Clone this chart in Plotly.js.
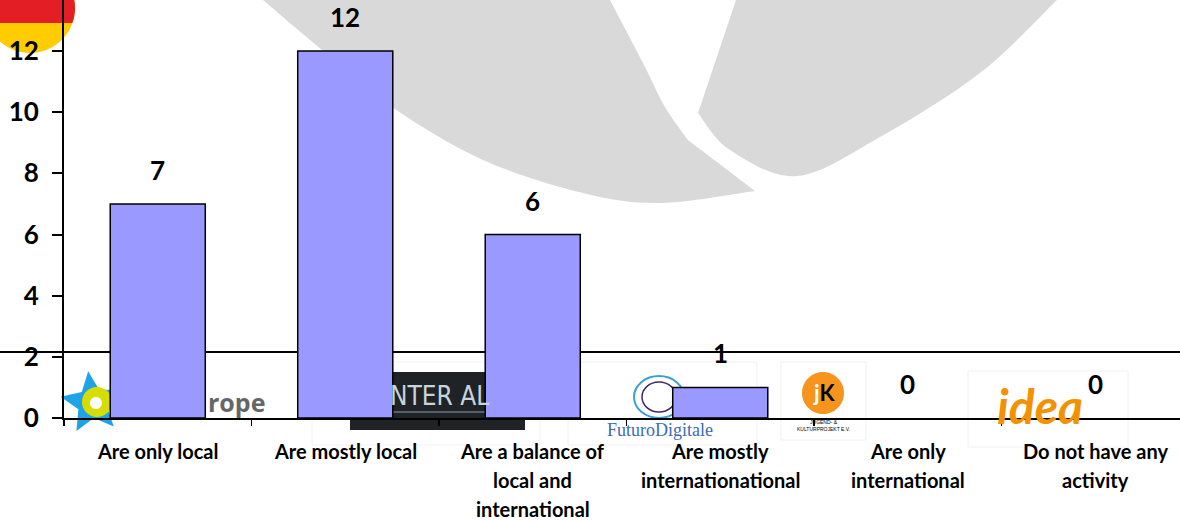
<!DOCTYPE html>
<html>
<head>
<meta charset="utf-8">
<script src="https://cdn.plot.ly/plotly-3.0.1.min.js"></script>
<style>
html,body{margin:0;padding:0;background:#fff;}
#chart{width:1180px;height:521px;}
</style>
</head>
<body>
<div id="chart"></div>
<script>
// ---- data ----
const categories = [
  "Are only local",
  "Are mostly local",
  "Are a balance of local and international",
  "Are mostly internationational",
  "Are only international",
  "Do not have any activity"
];
const tickLabels = [
  "Are only local",
  "Are mostly local",
  "Are a balance of\nlocal and\ninternational",
  "Are mostly\ninternationational",
  "Are only\ninternational",
  "Do not have any\nactivity"
];
const values = [7, 12, 6, 1, 0, 0];
const yTickValues = [0, 2, 4, 6, 8, 10, 12];

// ---- layout helpers (pixel -> paper) ----
const PL = 64, PW = 1116, PB = 418, PH = 418;
const fx = px => (px - PL) / PW;
const fy = py => (PB - py) / PH;
const pt = (x, y) => fx(x) + ',' + fy(y);

// smooth curve through pixel points (Catmull-Rom -> cubic Bezier), continuing a path
function smooth(pts) {
  let s = '';
  for (let i = 0; i < pts.length - 1; i++) {
    const p0 = pts[Math.max(0, i - 1)], p1 = pts[i], p2 = pts[i + 1], p3 = pts[Math.min(pts.length - 1, i + 2)];
    const c1 = [p1[0] + (p2[0] - p0[0]) / 6, p1[1] + (p2[1] - p0[1]) / 6];
    const c2 = [p2[0] - (p3[0] - p1[0]) / 6, p2[1] - (p3[1] - p1[1]) / 6];
    s += ' C' + pt(c1[0], c1[1]) + ' ' + pt(c2[0], c2[1]) + ' ' + pt(p2[0], p2[1]);
  }
  return s;
}
function circlePath(cx, cy, r, maxY) {
  let pts = [];
  for (let k = 0; k <= 72; k++) {
    const a = k / 72 * 2 * Math.PI;
    let x = cx + r * Math.cos(a), y = cy + r * Math.sin(a);
    if (maxY !== undefined && y > maxY) y = maxY;
    pts.push((k ? 'L' : 'M') + pt(x, y));
  }
  return pts.join(' ') + ' Z';
}
function starPath(cx, cy, R, r, rot) {
  let pts = [];
  for (let k = 0; k < 10; k++) {
    const a = rot + k * Math.PI / 5;
    const rr = k % 2 ? r : R;
    pts.push((k ? 'L' : 'M') + pt(cx + rr * Math.sin(a), cy - rr * Math.cos(a)));
  }
  return pts.join(' ') + ' Z';
}
const pathShape = (path, fill, line) => ({type: 'path', xref: 'paper', yref: 'paper', path: path,
  fillcolor: fill, line: line || {width: 0}, layer: 'below'});
const boxShape = (x0, y0, x1, y1, fill, line, type) => ({type: type || 'rect', xref: 'paper', yref: 'paper',
  x0: fx(x0), x1: fx(x1), y0: fy(y1), y1: fy(y0), fillcolor: fill, line: line || {width: 0}, layer: 'below'});

const leftLeaf = 'M' + pt(263, 0) +
  smooth([[263, 0], [322, 50], [392, 107], [483, 160], [583, 193], [660, 203], [755, 191]]) +
  smooth([[755, 191], [688, 140]]) +
  smooth([[688, 140], [665, 107], [643, 63], [610, 0]]) + ' Z';
const rightLeaf = 'M' + pt(736, 0) + ' L' + pt(698, 113) +
  smooth([[698, 113], [730, 150], [797, 176], [880, 137], [980, 73], [1057, 0]]) + ' Z';

const shapes = [
  // grey watermark
  pathShape(leftLeaf, '#d9d9d9'),
  pathShape(rightLeaf, '#d9d9d9'),
  // flag badge
  pathShape(circlePath(30, 8, 45), '#ffcc00'),
  pathShape(circlePath(30, 8, 45, 23), '#e31e24'),
  // stray horizontal rule
  {type: 'line', xref: 'paper', yref: 'paper', x0: fx(0), x1: fx(1180), y0: fy(352), y1: fy(352),
   line: {color: '#000', width: 2}, layer: 'below'},
  // faint logo frames
  boxShape(312, 362, 540, 445, 'rgba(0,0,0,0)', {color: '#f2f2f2', width: 1}),
  boxShape(568, 362, 757, 445, 'rgba(0,0,0,0)', {color: '#f0f0f0', width: 1}),
  boxShape(781, 362, 866, 440, 'rgba(0,0,0,0)', {color: '#f0f0f0', width: 1}),
  boxShape(968, 371, 1128, 447, 'rgba(0,0,0,0)', {color: '#f0f0f0', width: 1}),
  // star logo
  pathShape(starPath(92, 403, 32, 15, -0.12), '#1ea3e6'),
  pathShape(circlePath(97, 402, 15), '#d7dd00'),
  pathShape(circlePath(96, 403, 6), '#ffffff'),
  // inter alia logo
  boxShape(350, 372, 525, 430, '#1f2326'),
  {type: 'line', xref: 'paper', yref: 'paper', x0: fx(393), x1: fx(485), y0: fy(412), y1: fy(412),
   line: {color: '#8aa0b4', width: 1}, layer: 'below'},
  // futuro digitale swirl
  boxShape(634, 376, 684, 418, 'rgba(0,0,0,0)', {color: '#3a9fd6', width: 2}, 'circle'),
  boxShape(642, 382, 676, 412, 'rgba(0,0,0,0)', {color: '#3c2b6b', width: 1.5}, 'circle'),
  // jk logo
  pathShape(circlePath(823, 393, 21), '#f7941d'),
];

const lblFont = {family: 'Lato, sans-serif', size: 20, color: '#000', weight: 'bold'};
const valFont = {family: 'Lato, sans-serif', size: 26, color: '#000', weight: 'bold'};
const logoNote = (px, py, text, font) => ({xref: 'paper', yref: 'paper', x: fx(px), y: fy(py), text: text,
  showarrow: false, xanchor: 'center', yanchor: 'middle', font: font});

const annotations = [
  logoNote(236, 402, 'rope', {family: 'Open Sans, sans-serif', size: 25, color: '#666', weight: 'bold'}),
  logoNote(439, 396, 'NTER AL', {family: 'Liberation Sans Narrow, DejaVu Sans Condensed, sans-serif', size: 26, color: '#c9d3dc'}),
  logoNote(660, 430, 'FuturoDigitale', {family: 'Liberation Serif, serif', size: 18, color: '#3b6bb5'}),
  logoNote(824, 392, '<span style="color:#fff">j</span>K', {family: 'Lato, sans-serif', size: 22, color: '#000', weight: 'bold'}),
  logoNote(823, 425, 'JUGEND- &amp;<br>KULTURPROJEKT E.V.', {family: 'Liberation Sans, sans-serif', size: 5, color: '#000'}),
  logoNote(1040, 405, '<i>idea</i>', {family: 'Lato, sans-serif', size: 48, color: '#f39200', weight: 'bold'}),
];

// category labels (multi-line, wide line spacing)
tickLabels.forEach((lbl, i) => {
  lbl.split('\n').forEach((line, j) => {
    annotations.push({x: categories[i], xref: 'x', y: fy(451 + 29 * j), yref: 'paper',
      text: line, showarrow: false, xanchor: 'center', yanchor: 'middle', font: lblFont});
  });
});
// value labels
values.forEach((v, i) => {
  annotations.push({x: categories[i], xref: 'x', y: v, yref: 'y', text: String(v),
    showarrow: false, xanchor: 'center', yanchor: 'bottom', yshift: 16, font: valFont});
});

const trace = {
  type: 'bar',
  x: categories,
  y: values,
  marker: {color: '#9999ff', line: {color: '#000', width: values.map(v => v ? 1.5 : 0)}},
  hoverinfo: 'x+y'
};

const layout = {
  width: 1180, height: 521,
  margin: {l: PL, r: 0, t: 0, b: 521 - PB},
  paper_bgcolor: 'rgba(0,0,0,0)',
  plot_bgcolor: 'rgba(0,0,0,0)',
  showlegend: false,
  bargap: 0.493,
  xaxis: {
    type: 'category',
    range: [-0.5, -0.5 + PW / 187.5],
    showticklabels: false,
    ticks: 'outside', tickson: 'boundaries', ticklen: 6, tickwidth: 1.5, tickcolor: '#000',
    showline: true, linecolor: '#000', linewidth: 2,
    showgrid: false, zeroline: false, fixedrange: true
  },
  yaxis: {
    range: [0, PB / ((418 - 51) / 12)],
    tickvals: yTickValues,
    ticktext: yTickValues.map(String),
    ticks: 'outside', ticklen: 10, tickwidth: 2, tickcolor: '#000',
    ticklabelstandoff: 8,
    tickfont: {family: 'Lato, sans-serif', size: 26, color: '#000', weight: 'bold'},
    showline: true, linecolor: '#000', linewidth: 2,
    showgrid: false, zeroline: false, fixedrange: true
  },
  shapes: shapes,
  annotations: annotations
};

Plotly.newPlot('chart', [trace], layout, {displayModeBar: false, staticPlot: true});
</script>
</body>
</html>
